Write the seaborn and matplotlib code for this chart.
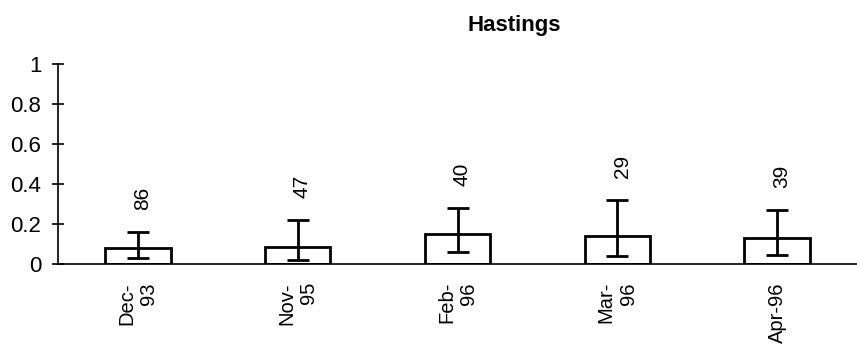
import numpy as np
import matplotlib
matplotlib.use("Agg")
import matplotlib.pyplot as plt
import seaborn as sns

# values
dates = ["Dec-\n93", "Nov-\n95", "Feb-\n96", "Mar-\n96", "Apr-96"]
means = [0.08, 0.086, 0.15, 0.14, 0.13]
err_low = [0.03, 0.02, 0.06, 0.04, 0.045]
err_high = [0.16, 0.22, 0.28, 0.32, 0.27]
counts = [86, 47, 40, 29, 39]

sns.set_style("white", {"text.color": "black", "xtick.color": "black",
                        "ytick.color": "black", "axes.edgecolor": "black"})
plt.rcParams["font.family"] = ["Liberation Sans", "DejaVu Sans"]

fig = plt.figure(figsize=(8.57, 3.51), dpi=100)
ax = fig.add_axes([58 / 857, 87 / 351, 1 - 58 / 857, 200 / 351])

sns.barplot(x=dates, y=means, color="white", edgecolor="black",
            linewidth=2, width=0.41, ax=ax)

xpos = np.arange(len(dates))
lo = np.array(means) - np.array(err_low)
hi = np.array(err_high) - np.array(means)
ax.errorbar(xpos, means, yerr=[lo, hi], fmt="none", ecolor="black",
            elinewidth=2, capsize=8, capthick=2)

for x, top, n in zip(xpos, err_high, counts):
    ax.annotate(str(n), (x + 0.03, top), xytext=(0, 16), textcoords="offset points",
                rotation=90, ha="center", va="bottom", fontsize=15, color="black")

ax.set_xlim(-0.5, len(dates) - 0.5)
ax.set_ylim(0, 1)
ax.set_yticks([0, 0.2, 0.4, 0.6, 0.8, 1])
ax.set_yticklabels(["0", "0.2", "0.4", "0.6", "0.8", "1"], fontsize=16)
ax.set_xticks(xpos)
ax.set_xticklabels(dates, rotation=90, fontsize=14.5, multialignment="right")
ax.set_xticks(np.arange(len(dates) + 1) - 0.5, minor=True)
ax.tick_params(axis="x", which="major", length=0, pad=13, labelcolor="black")
ax.tick_params(axis="x", which="minor", length=9, width=1.2, direction="inout", color="black")
ax.tick_params(axis="y", length=8, width=1.2, direction="inout", color="black",
               labelcolor="black", left=True, pad=8)

for side in ["top", "right"]:
    ax.spines[side].set_visible(False)
for side in ["left", "bottom"]:
    ax.spines[side].set_color("black")
    ax.spines[side].set_linewidth(1.2)

fig.text(514 / 857, 1 - 25 / 351, "Hastings", ha="center", va="center",
         fontsize=16, fontweight="bold", color="black")

fig.savefig("out.png", dpi=100)
